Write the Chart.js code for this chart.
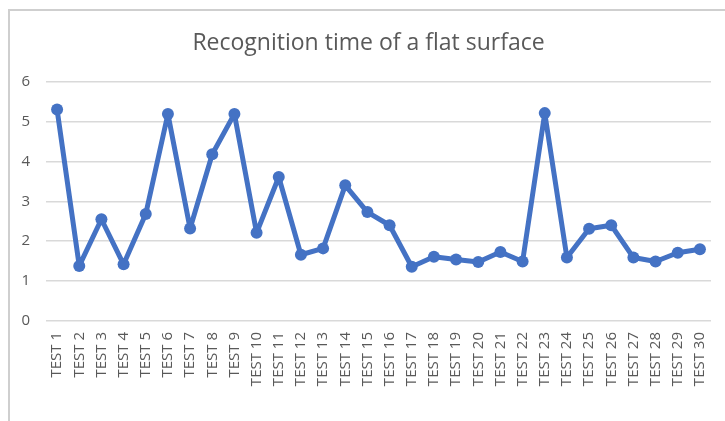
<!DOCTYPE html>
<html>
<head>
<meta charset="utf-8">
<script src="https://cdn.jsdelivr.net/npm/chart.js@4.4.1/dist/chart.umd.min.js"></script>
<style>
  html, body { margin: 0; padding: 0; background: #ffffff; }
  #wrap { position: relative; width: 725px; height: 421px; }
</style>
</head>
<body>
<div id="wrap"><canvas id="c" width="725" height="421"></canvas></div>
<script>
const chartTitle = "Recognition time of a flat surface";
const categories = ["TEST 1","TEST 2","TEST 3","TEST 4","TEST 5","TEST 6","TEST 7","TEST 8","TEST 9","TEST 10",
  "TEST 11","TEST 12","TEST 13","TEST 14","TEST 15","TEST 16","TEST 17","TEST 18","TEST 19","TEST 20",
  "TEST 21","TEST 22","TEST 23","TEST 24","TEST 25","TEST 26","TEST 27","TEST 28","TEST 29","TEST 30"];
const recognitionTime = [5.3, 1.38, 2.55, 1.42, 2.68, 5.19, 2.32, 4.18, 5.19, 2.21,
  3.61, 1.66, 1.82, 3.4, 2.73, 2.4, 1.36, 1.61, 1.54, 1.48,
  1.73, 1.49, 5.21, 1.59, 2.31, 2.4, 1.59, 1.49, 1.71, 1.8];
const yMin = 0, yMax = 6, yStep = 1;

const frame = {
  id: 'frame',
  afterLayout(chart) {
    const t = chart.titleBlock;
    if (t) { t.left += 8; t.right += 8; }
  },
  beforeDraw(chart) {
    const ctx = chart.ctx;
    ctx.save();
    ctx.fillStyle = '#ffffff';
    ctx.fillRect(0, 0, chart.width, chart.height);
    ctx.strokeStyle = '#cfcfcf';
    ctx.lineWidth = 2;
    ctx.beginPath();
    ctx.moveTo(9, chart.height);
    ctx.lineTo(9, 10);
    ctx.lineTo(chart.width, 10);
    ctx.stroke();
    ctx.restore();
  }
};

new Chart(document.getElementById('c'), {
  type: 'line',
  data: {
    labels: categories,
    datasets: [{
      label: 'Recognition time',
      data: recognitionTime,
      borderColor: '#4472C4',
      backgroundColor: '#4472C4',
      borderWidth: 5,
      borderJoinStyle: 'round',
      borderCapStyle: 'round',
      pointRadius: 6,
      pointBackgroundColor: '#4472C4',
      pointBorderColor: '#4472C4',
      pointBorderWidth: 0,
      tension: 0,
      fill: false
    }]
  },
  options: {
    responsive: false,
    animation: false,
    devicePixelRatio: 1,
    layout: { padding: { top: 8, left: 10, right: 14, bottom: 0 } },
    plugins: {
      legend: { display: false },
      tooltip: { enabled: false },
      title: {
        display: true,
        text: chartTitle,
        color: '#595959',
        font: { family: 'Open Sans', size: 23, weight: 'normal' },
        padding: { top: 22, bottom: 24 }
      }
    },
    scales: {
      x: {
        offset: true,
        grid: { display: false, drawTicks: false },
        border: { display: false },
        ticks: {
          color: '#595959',
          font: { family: 'Open Sans', size: 15 },
          maxRotation: 90, minRotation: 90,
          autoSkip: false,
          padding: 11
        },
        afterFit(scale) { scale.height = 100; scale.paddingLeft = 0; scale.paddingRight = 0; }
      },
      y: {
        min: yMin, max: yMax,
        grid: { color: '#d9d9d9', lineWidth: 1.5, drawTicks: false },
        border: { display: false },
        ticks: {
          stepSize: yStep,
          color: '#595959',
          font: { family: 'Open Sans', size: 15 },
          padding: 16
        },
        afterFit(scale) { scale.width = 36; }
      }
    }
  },
  plugins: [frame]
});
</script>
</body>
</html>
